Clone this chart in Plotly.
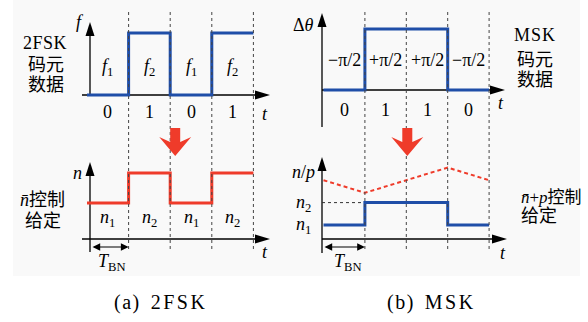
import plotly.graph_objects as go

W, H = 588, 322

# ---------------- data ----------------
bit_edges = [0, 1, 2, 3, 4]
fsk_bits = [0, 1, 0, 1]
fsk_bit_labels = ["0", "1", "0", "1"]
fsk_freq_labels = ["<i>f</i><sub>1</sub>", "<i>f</i><sub>2</sub>", "<i>f</i><sub>1</sub>", "<i>f</i><sub>2</sub>"]
fsk_freq_levels = [0, 1]            # f1, f2 (schematic)
fsk_speed_labels = ["<i>n</i><sub>1</sub>", "<i>n</i><sub>2</sub>", "<i>n</i><sub>1</sub>", "<i>n</i><sub>2</sub>"]
fsk_speed_levels = [1.2, 2.2]       # n1, n2 (schematic)

msk_bits = [0, 1, 1, 0]
msk_bit_labels = ["0", "1", "1", "0"]
msk_phase_labels = ["\u2212\u03c0/2", "+\u03c0/2", "+\u03c0/2", "\u2212\u03c0/2"]
msk_phase_levels = [0, 1]
msk_speed_levels = [1.0, 2.6]       # n1, n2 (schematic)
msk_p_values = [4.2, 3.3, 4.2, 5.1, 4.2]   # n+p at bit edges

BLUE = "#1f4ea8"
RED = "#ef3b2a"
SERIF = "'Liberation Serif', 'Noto Sans CJK SC', serif"

# ---------------- axis geometry (pixel mapping) ----------------
L0, LS = 87.0, 41.6
R0, RS = 323.5, 41.4
def tL(px): return (px - L0) / LS
def tR(px): return (px - R0) / RS
YA = (95.0, 62.0)
YB = (239.0, 30.0)
YC = (90.0, 61.0)
YD = (239.0, 14.0)
def yv(m, py): return (m[0] - py) / m[1]
def yrange(m): return [yv(m, H), yv(m, 0)]
def P(px, py): return px / W, 1 - py / H

def step(bits, levels):
    ys = [levels[b] for b in bits]
    return ys + [ys[-1]]

fig = go.Figure()

def line(x, y, xa, ya, color="black", width=1.3, dash=None, shape="linear"):
    fig.add_trace(go.Scatter(x=x, y=y, xaxis=xa, yaxis=ya, mode="lines",
                             line=dict(color=color, width=width, dash=dash, shape=shape),
                             hoverinfo="skip", showlegend=False))

# axes lines
line([tL(82), tL(266)], [0, 0], "x", "y")
line([tL(90), tL(90)], [0, yv(YA, 30)], "x", "y")
line([tL(82), tL(266)], [0, 0], "x", "y2")
line([tL(90), tL(90)], [yv(YB, 252), yv(YB, 170)], "x", "y2")
line([tR(322), tR(500)], [0, 0], "x2", "y3")
line([tR(322), tR(322)], [yv(YC, 127), yv(YC, 20)], "x2", "y3")
line([tR(322), tR(502)], [0, 0], "x2", "y4")
line([tR(322), tR(322)], [yv(YD, 253), yv(YD, 165)], "x2", "y4")

# n2 reference dotted line (right lower)
line([tR(322), bit_edges[1]], [msk_speed_levels[1]] * 2, "x2", "y4", color="#333", width=1, dash="dot")

# signals
line(bit_edges, step(fsk_bits, fsk_freq_levels), "x", "y", color=BLUE, width=3, shape="hv")
line(bit_edges, step(fsk_bits, fsk_speed_levels), "x", "y2", color=RED, width=3, shape="hv")
line(bit_edges, step(msk_bits, msk_phase_levels), "x2", "y3", color=BLUE, width=3, shape="hv")
line(bit_edges, step(msk_bits, msk_speed_levels), "x2", "y4", color=BLUE, width=3, shape="hv")
line(bit_edges, msk_p_values, "x2", "y4", color=RED, width=2, dash="4px,3px")

shapes = []
x0p, y1p = P(13, 0)
x1p, y0p = P(580, 276)
shapes.append(dict(type="rect", xref="paper", yref="paper", x0=x0p, x1=x1p, y0=y0p, y1=y1p,
                   fillcolor="#f9f9f9", line=dict(width=0), layer="below"))
for xr in ["x", "x2"]:
    for e in bit_edges[1:]:
        shapes.append(dict(type="line", xref=xr, yref="paper", x0=e, x1=e,
                           y0=1 - 249 / H, y1=1 - 11 / H,
                           line=dict(color="#444", width=1, dash="dot")))

def head(xr, yr, xa, ya, path):
    shapes.append(dict(type="path", xref=xr, yref=yr, xsizemode="pixel", ysizemode="pixel",
                       xanchor=xa, yanchor=ya, path=path, fillcolor="black",
                       line=dict(width=0)))

UP = "M-4.5,-14 L4.5,-14 L0,0 Z"
RIGHT = "M-15,-4.5 L-15,4.5 L0,0 Z"
head("x", "y", tL(90), yv(YA, 22), UP)
head("x", "y", tL(270), 0, RIGHT)
head("x", "y2", tL(90), yv(YB, 162), UP)
head("x", "y2", tL(270), 0, RIGHT)
head("x2", "y3", tR(322), yv(YC, 13), UP)
head("x2", "y3", tR(505), 0, RIGHT)
head("x2", "y4", tR(322), yv(YD, 157), UP)
head("x2", "y4", tR(507), 0, RIGHT)

def big_arrow(xr, xa, dx):
    pts = [(-5, 0), (5, 0), (5, -14), (16, -9), (0, -28), (-16, -9), (-5, -14)]
    path = "M" + " L".join(f"{x + dx},{y}" for x, y in pts) + " Z"
    shapes.append(dict(type="path", xref=xr, yref="paper", xsizemode="pixel", ysizemode="pixel",
                       xanchor=xa, yanchor=1 - 128 / H, path=path, fillcolor=RED,
                       line=dict(width=0)))
big_arrow("x", bit_edges[2], 5)
big_arrow("x2", bit_edges[2], 1)

ann = []
def txt(text, px, py, size=17, xanchor="center"):
    x, y = P(px, py)
    ann.append(dict(text=text, x=x, y=y, xref="paper", yref="paper", showarrow=False,
                    xanchor=xanchor, yanchor="middle", font=dict(family=SERIF, size=size, color="black")))

def dtxt(text, x, y, xr, yr, size=17):
    ann.append(dict(text=text, x=x, y=y, xref=xr, yref=yr, showarrow=False,
                    xanchor="center", yanchor="middle", font=dict(family=SERIF, size=size, color="black")))

# panel (a) top
txt("<i>f</i>", 80, 22, size=18)
txt('<span style="letter-spacing:0.5px">2FSK</span>', 45, 43, size=18)
txt("码元", 46, 65, size=18)
txt("数据", 46, 85, size=18)
for i in range(4):
    dtxt(fsk_freq_labels[i], i + 0.5, yv(YA, 67), "x", "y", size=18)
    dtxt(fsk_bit_labels[i], i + 0.5, yv(YA, 112), "x", "y", size=18)
txt("<i>t</i>", 265, 114, size=18)
# panel (a) bottom
txt("<i>n</i>", 77, 173, size=18)
txt("<i>n\u0304</i>控制", 42, 200, size=18)
txt("给定", 43, 221, size=18)
for i in range(4):
    dtxt(fsk_speed_labels[i], i + 0.5, yv(YB, 218), "x", "y2", size=18)
txt("<i>t</i>", 265, 252, size=18)
txt("<i>T</i><sub>BN</sub>", 112, 262, size=18)

# panel (b) top
txt("\u0394<i>\u03b8</i>", 303, 25, size=18)
txt('<span style="letter-spacing:1px">MSK</span>', 535, 35, size=18)
txt("码元", 535, 60, size=18)
txt("数据", 535, 80, size=18)
for i in range(4):
    dtxt(msk_phase_labels[i], i + 0.5, yv(YC, 60), "x2", "y3", size=18)
    dtxt(msk_bit_labels[i], i + 0.5, yv(YC, 110), "x2", "y3", size=18)
txt("<i>t</i>", 501, 103, size=18)
# panel (b) bottom
txt("<i>n</i>/<i>p</i>", 303, 172, size=18)
txt("<i>n</i><sub>2</sub>", 303, 203, size=18)
txt("<i>n</i><sub>1</sub>", 303, 225, size=18)
txt("<i>n\u0304</i>+<i>p</i>控制", 519, 197, size=17, xanchor="left")
txt("给定", 519, 216, size=18, xanchor="left")
txt("<i>t</i>", 503, 253, size=18)
txt("<i>T</i><sub>BN</sub>", 348, 262, size=18)

for xr, yr, m, xa in [("x", "y2", YB, tL(91)), ("x2", "y4", YD, tR(323))]:
    ann.append(dict(text="", x=bit_edges[1], y=yv(m, 247), xref=xr, yref=yr,
                    ax=xa, ay=yv(m, 247), axref=xr, ayref=yr,
                    showarrow=True, arrowhead=2, arrowside="end+start", arrowsize=1.4,
                    arrowwidth=1.1, arrowcolor="black"))

# captions
txt('<span style="letter-spacing:1.5px">(a)</span>\u00a0\u00a0<span style="letter-spacing:2.5px">2FSK</span>',
    112, 302, size=20, xanchor="left")
txt('<span style="letter-spacing:1.5px">(b)</span>\u00a0\u00a0<span style="letter-spacing:2.5px">MSK</span>',
    385, 302, size=20, xanchor="left")

ax_common = dict(visible=False, showgrid=False, zeroline=False, fixedrange=True)
fig.update_layout(
    width=W, height=H, margin=dict(l=0, r=0, t=0, b=0),
    paper_bgcolor="white", plot_bgcolor="rgba(0,0,0,0)", showlegend=False,
    font=dict(family=SERIF),
    xaxis=dict(domain=[0, 0.5], range=[tL(0), tL(W / 2)], anchor="y", **ax_common),
    xaxis2=dict(domain=[0.5, 1], range=[tR(W / 2), tR(W)], anchor="y3", **ax_common),
    yaxis=dict(domain=[0, 1], range=yrange(YA), anchor="x", **ax_common),
    yaxis2=dict(domain=[0, 1], range=yrange(YB), anchor="x", **ax_common),
    yaxis3=dict(domain=[0, 1], range=yrange(YC), anchor="x2", **ax_common),
    yaxis4=dict(domain=[0, 1], range=yrange(YD), anchor="x2", **ax_common),
    shapes=shapes, annotations=ann,
)
fig.write_html("out.html")
